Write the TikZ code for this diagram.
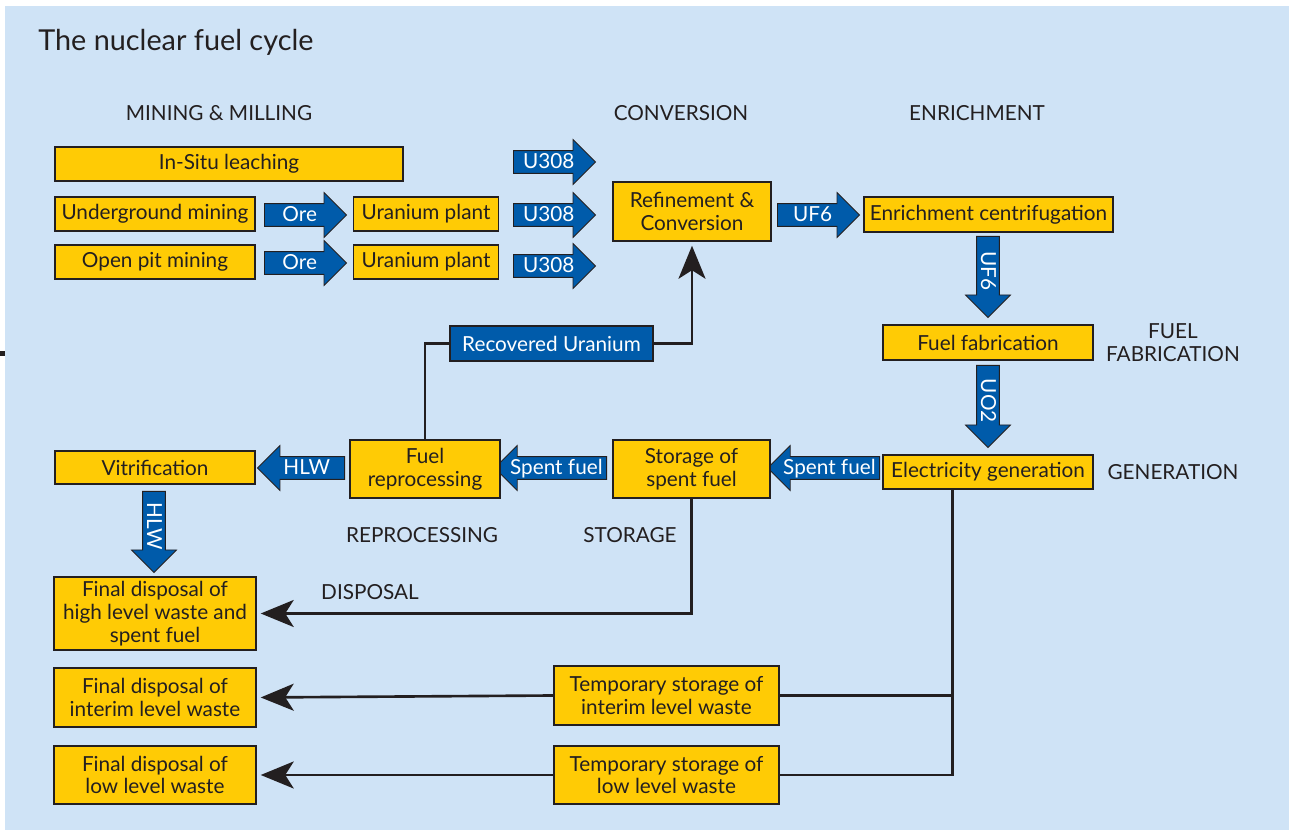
\documentclass[tikz,border=0pt]{standalone}
\usepackage{fontspec}
\setmainfont{Lato}
\usetikzlibrary{positioning, arrows.meta, shapes.arrows, calc}
\definecolor{ink}{HTML}{231F20}
\definecolor{sky}{HTML}{CFE3F6}
\definecolor{fuel}{HTML}{FFCB05}
\definecolor{flow}{HTML}{005BAA}
\newcommand{\fcfont}{\fontsize{11.8}{13}\selectfont}
\tikzset{
  every node/.style = {font=\fcfont, text=ink},
  fcbox/.style    = {draw=ink, line width=0.85pt, fill=fuel, align=center, inner sep=2pt},
  fcflow/.style   = {single arrow, draw=ink, line width=0.5pt, fill=flow, text=white,
                     inner xsep=2pt, inner ysep=1pt, text height=9.2pt, text depth=1.3pt,
                     single arrow head extend=0.22cm, minimum height=1.64cm, anchor=tail},
  fcback/.style   = {fcflow, shape border rotate=180},
  fcdown/.style   = {fcflow, rotate=-90},
  fcstage/.style  = {align=center, inner sep=0pt},
  fctitle/.style  = {font=\fontsize{16.4}{18}\selectfont, anchor=west, inner sep=0pt},
  fcline/.style   = {draw=ink, line width=1.5pt},
  fcgo/.style     = {fcline, -{Stealth[length=6.6mm,width=5.4mm,inset=1.7mm]}, shorten >=0.08cm},
}

\begin{document}
\begin{tikzpicture}[x=0.02cm, y=-0.02cm]
\useasboundingbox (0,0) rectangle (1289,830);
\fill[sky] (5,6) rectangle (1289,830);
\fill[ink] (0,351) rectangle (5,356);

\node[fctitle] (title) at (38,42) {The nuclear fuel cycle};

% stage names
\node[fcstage] (sMine) at (219,113) {MINING \& MILLING};
\node[fcstage] (sConv) at (681,113) {CONVERSION};
\node[fcstage] (sEnr)  at (977,113) {ENRICHMENT};
\node[fcstage] (sFab)  at (1173,343) {FUEL\\FABRICATION};
\node[fcstage] (sGen)  at (1173,472) {GENERATION};
\node[fcstage] (sRep)  at (422,535) {REPROCESSING};
\node[fcstage] (sSto)  at (630,535) {STORAGE};
\node[fcstage] (sDis)  at (370,592) {DISPOSAL};

% mining & milling
\node[fcbox, minimum width=6.96cm, minimum height=0.68cm] (insitu) at (229,164) {In-Situ leaching};
\node[fcbox, minimum width=4cm, minimum height=0.68cm] (under) at (155,214) {Underground mining};
\node[fcbox, minimum width=4cm, minimum height=0.68cm] (pit)   at (155,262) {Open pit mining};
\node[fcbox, minimum width=2.9cm, minimum height=0.68cm] (plantA) at (426,214) {Uranium plant};
\node[fcbox, minimum width=2.9cm, minimum height=0.68cm] (plantB) at (426,262) {Uranium plant};
\node[fcflow] (oreA) at (264,215) {Ore};
\node[fcflow] (oreB) at (264,263) {Ore};
\node[fcflow] (uoA) at (513,162) {U308};
\node[fcflow] (uoB) at (513,215) {U308};
\node[fcflow] (uoC) at (513,266) {U308};

% conversion, enrichment, fabrication
\node[fcbox, minimum width=3.16cm, minimum height=1.18cm] (refine) at (692,211.5) {Refinement \&\\Conversion};
\node[fcflow] (ufA) at (777,215) {UF6};
\node[fcbox, minimum width=4.98cm, minimum height=0.7cm] (enrich) at (988.5,214.5) {Enrichment centrifugation};
\node[fcdown, minimum height=1.62cm] (ufB) at (988,236) {UF6};
\node[fcbox, minimum width=4.2cm, minimum height=0.7cm] (fab) at (988,342.5) {Fuel fabrication};
\node[fcdown, minimum height=1.64cm] (uoTwo) at (988,365) {UO2};
\node[fcbox, minimum width=4.2cm, minimum height=0.68cm] (elec) at (988,472) {Electricity generation};

% back end of the cycle
\node[fcback, minimum height=2.06cm] (spentA) at (880,468) {Spent fuel};
\node[fcbox, minimum width=3.14cm, minimum height=1.16cm] (storage) at (691.5,469) {Storage of\\spent fuel};
\node[fcback, minimum height=2.1cm] (spentB) at (607,468) {Spent fuel};
\node[fcbox, minimum width=3cm, minimum height=1.16cm] (reproc) at (425,469) {Fuel\\reprocessing};
\node[fcback, minimum height=1.74cm] (hlwA) at (345,468) {HLW};
\node[fcbox, minimum width=4cm, minimum height=0.66cm] (vitri) at (155,467.5) {Vitrification};
\node[fcdown, minimum height=1.62cm] (hlwB) at (154,491) {HLW};
\node[fcbox, draw=ink, fill=flow, text=white, minimum width=4.06cm, minimum height=0.7cm] (recov) at (551.5,343.5) {Recovered Uranium};

% disposal
\node[fcbox, minimum width=4.04cm, minimum height=1.46cm] (finalH) at (155,613.5) {Final disposal of\\high level waste and\\spent fuel};
\node[fcbox, minimum width=4.04cm, minimum height=1.18cm] (finalI) at (155,697.5) {Final disposal of\\interim level waste};
\node[fcbox, minimum width=4.04cm, minimum height=1.16cm] (finalL) at (155,775) {Final disposal of\\low level waste};
\node[fcbox, minimum width=4.5cm, minimum height=1.18cm] (tempI) at (666.5,695.5) {Temporary storage of\\interim level waste};
\node[fcbox, minimum width=4.5cm, minimum height=1.16cm] (tempL) at (666.5,775) {Temporary storage of\\low level waste};

\draw[fcline] (reproc.north) |- (recov.west);
\draw[fcgo] (recov.east) -| (refine.south);
\draw[fcgo] (storage.south) |- (finalH.east);
\coordinate (etap) at ($(elec.south west)+(70,0)$);
\draw[fcline] (etap) |- (tempL.east);
\draw[fcline] (tempI.east) -| (etap);
\draw[fcgo] (tempI.west) -- (finalI.east);
\draw[fcgo] (tempL.west) -- (finalL.east);
\end{tikzpicture}
\end{document}
